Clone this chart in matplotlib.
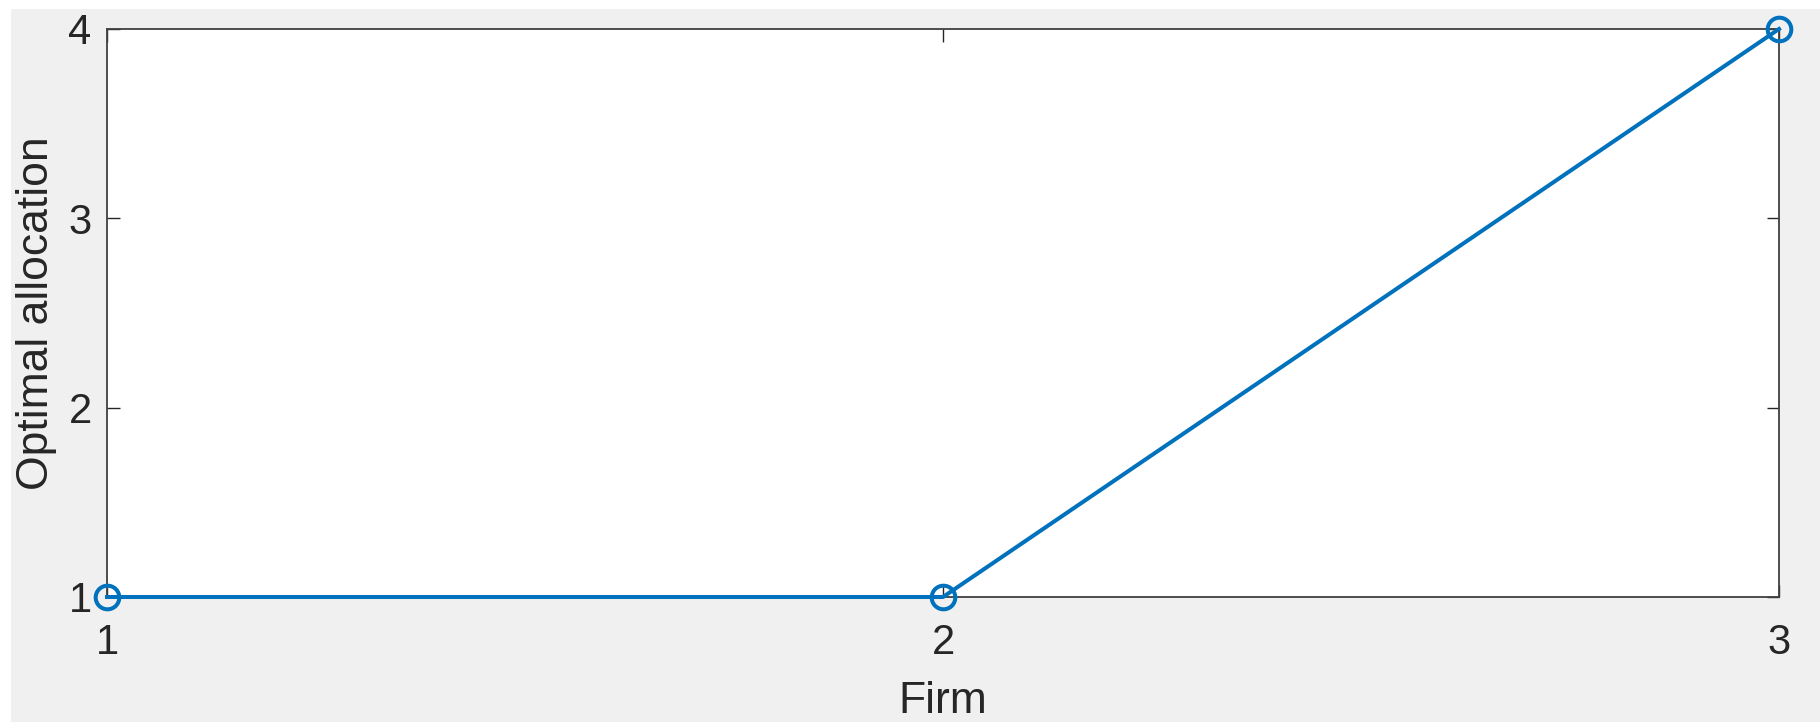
import matplotlib
matplotlib.use("Agg")
import matplotlib.pyplot as plt
from matplotlib.patches import Rectangle

firms = [1, 2, 3]
allocation = [1, 1, 4]
xticks = [1, 2, 3]
yticks = [1, 2, 3, 4]

plt.rcParams['font.family'] = ['Liberation Sans', 'DejaVu Sans']

W, H = 1820, 722
fig = plt.figure(figsize=(W / 100, H / 100), dpi=100)
fig.patch.set_facecolor('white')
fig.add_artist(Rectangle((11 / W, 0), 1 - 11 / W, 1 - 9 / H, transform=fig.transFigure,
                         facecolor='#f0f0f0', edgecolor='none', zorder=-10))

ax = fig.add_axes([107 / W, 1 - 597 / H, (1779 - 107) / W, (597 - 29) / H])
ax.set_facecolor('white')
ax.plot(firms, allocation, color='#0072BD', linewidth=2.9, marker='o',
        markersize=17, markerfacecolor='none', markeredgewidth=2.9, clip_on=False, zorder=5)
ax.set_xlim(1, 3)
ax.set_ylim(1, 4)
ax.set_xticks(xticks)
ax.set_yticks(yticks)
ax.set_xticklabels([str(t) for t in xticks])
ax.set_yticklabels([str(t) for t in yticks])
ax.tick_params(direction='in', length=9, width=1, colors='#262626', labelsize=30,
               top=True, right=True)
ax.tick_params(axis='x', pad=19)
ax.tick_params(axis='y', pad=11)
for s in ax.spines.values():
    s.set_color('#404040')
    s.set_linewidth(1.3)
ax.set_xlabel('Firm', fontsize=32, color='#262626', labelpad=13)
ax.set_ylabel('Optimal allocation', fontsize=32, color='#262626', labelpad=8)

fig.savefig('out.png', dpi=100, facecolor=fig.get_facecolor())
